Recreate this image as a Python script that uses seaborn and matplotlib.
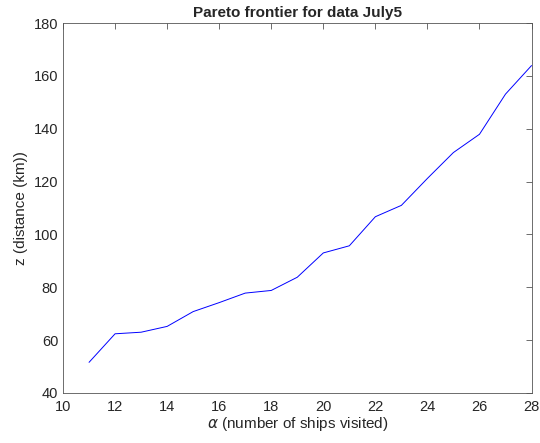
import matplotlib
matplotlib.use("Agg")
import matplotlib.pyplot as plt
import pandas as pd
import seaborn as sns

# Pareto frontier values
alpha = [11, 12, 13, 14, 15, 16, 17, 18, 19, 20, 21, 22, 23, 24, 25, 26, 27, 28]
dist_km = [51.6, 62.4, 63.0, 65.2, 70.8, 74.2, 77.8, 78.8, 83.8, 93.0, 95.7,
           106.7, 111.0, 121.2, 131.0, 137.9, 153.1, 163.9]
x_ticks = list(range(10, 29, 2))
y_ticks = list(range(40, 181, 20))

sns.set_style("white")
plt.rcParams["font.family"] = ["Liberation Sans", "DejaVu Sans"]
plt.rcParams["mathtext.fontset"] = "dejavusans"

df = pd.DataFrame({"alpha": alpha, "z": dist_km})

fig = plt.figure(figsize=(5.4, 4.43), dpi=100)
ax = fig.add_axes([0.1167, 0.1129, 0.8676, 0.8351])
sns.lineplot(data=df, x="alpha", y="z", color="#0000ff", linewidth=0.7, ax=ax)

ax.set_xlim(10, 28)
ax.set_ylim(40, 180)
ax.set_xticks(x_ticks)
ax.set_yticks(y_ticks)
ax.tick_params(direction="in", top=True, right=True, length=4, width=0.6,
               colors="#555555", labelcolor="#262626", labelsize=10.5)
ax.tick_params(axis="x", pad=5)
for s in ax.spines.values():
    s.set_visible(True)
    s.set_color("#555555")
    s.set_linewidth(0.6)

ax.set_xlabel(r"$\alpha$ (number of ships visited)", fontsize=11, color="#262626", labelpad=1)
ax.set_ylabel("z (distance (km))", fontsize=11, color="#262626", labelpad=4)
ax.set_title("Pareto frontier for data July5", fontsize=11, fontweight="bold", pad=4)

fig.savefig("out.png", dpi=100, facecolor="white")
